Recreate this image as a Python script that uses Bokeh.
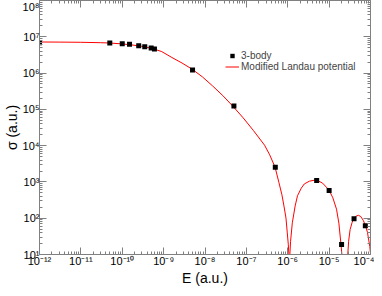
from bokeh.plotting import figure
from bokeh.models import (LogAxis, FixedTicker, CustomJSTickFormatter, Legend,
                          LegendItem, Range1d)
from bokeh.embed import file_html
from bokeh.resources import INLINE

# ---- data ----
body_E = [1e-12, 5e-11, 1e-10, 1.5e-10, 2.5e-10, 3.5e-10, 5e-10, 6e-10,
          5e-9, 5e-8, 5e-7, 5e-6, 1e-5, 2e-5, 4e-5, 7.5e-5]
body_sigma = [6.9e6, 6.75e6, 6.45e6, 6.2e6, 5.66e6, 5.3e6, 4.9e6, 4.6e6,
              1.21e6, 1.23e5, 2.55e3, 1.1e3, 580, 19, 97, 62]

curve_E = [1.0e-12, 3.1e-12, 9.7e-12, 3.0e-11, 4.8e-11, 9.3e-11, 1.64e-10,
           2.9e-10, 5.1e-10, 9.0e-10, 1.58e-9, 2.79e-9, 4.92e-9, 8.67e-9,
           1.53e-8, 2.7e-8, 4.75e-8, 8.38e-8, 1.48e-7, 2.75e-7, 3.66e-7,
           4.94e-7, 6.1e-7, 7.23e-7, 8.09e-7, 9.06e-7, 9.75e-7, 1.03e-6,
           1.07e-6, 1.09e-6,
           1.12e-6, 1.17e-6, 1.29e-6, 1.51e-6, 1.72e-6, 2.12e-6, 2.51e-6,
           3.34e-6, 4.88e-6, 6.97e-6, 9.95e-6, 1.23e-5, 1.51e-5, 1.72e-5,
           1.93e-5, 2.05e-5, 2.4e-5,
           2.81e-5, 2.96e-5, 3.22e-5, 3.61e-5, 4.04e-5, 4.52e-5, 5.15e-5,
           5.83e-5, 6.73e-5, 7.53e-5, 8.44e-5, 9.61e-5, 1.03e-4]
curve_sigma = [7.19e6, 7.14e6, 7.05e6, 6.87e6, 6.75e6, 6.4e6, 6.0e6,
               5.48e6, 4.83e6, 3.91e6, 2.69e6, 1.89e6, 1.27e6, 7.85e5,
               4.41e5, 2.39e5, 1.21e5, 5.83e4, 2.61e4, 1.03e4, 5.58e3,
               2.55e3, 975, 442, 218, 101, 39.3, 19.3,
               9.5, 1.0,
               9.2, 23.1, 74.6, 218, 415, 672, 879,
               1050, 1140, 925, 598, 365, 177, 73.3,
               19.4, 9.2, 1.0,
               9.2, 23.1, 48.9, 78, 99.5, 115, 120,
               111, 86, 63, 41, 16.7, 7.8]

x_exponents = [-12, -11, -10, -9, -8, -7, -6, -5, -4]
y_exponents = [1, 2, 3, 4, 5, 6, 7, 8]
x_title = "E (a.u.)"
y_title = "\u03c3 (a.u.)"

FONT = "Liberation Sans"
AXIS_GRAY = "#808080"

x_major = [10.0 ** k for k in x_exponents]
x_minor = [m * 10.0 ** k for k in x_exponents[:-1] for m in range(2, 10)]
y_major = [10.0 ** k for k in y_exponents]
y_minor = [m * 10.0 ** k for k in y_exponents[:-1] for m in range(2, 10)]

sup_code = """
const sup = {'-':'\u207b','0':'\u2070','1':'\u00b9','2':'\u00b2','3':'\u00b3',
             '4':'\u2074','5':'\u2075','6':'\u2076','7':'\u2077','8':'\u2078','9':'\u2079'};
const e = Math.round(Math.log10(tick));
return '10' + String(e).split('').map(c => sup[c]).join('');
"""

p = figure(width=374, height=288, x_axis_type="log", y_axis_type="log",
           x_range=Range1d(1e-12, 1e-4), y_range=Range1d(10, 1e8),
           output_backend="svg", toolbar_location=None,
           min_border_left=37, min_border_right=4,
           min_border_top=0, min_border_bottom=30)
p.outline_line_color = None
p.xgrid.visible = False
p.ygrid.visible = False
p.background_fill_color = "white"


def style_axis(ax, ticks, minors, labels=True):
    ax.ticker = FixedTicker(ticks=ticks, minor_ticks=minors)
    ax.axis_line_color = AXIS_GRAY
    ax.major_tick_line_color = AXIS_GRAY
    ax.minor_tick_line_color = AXIS_GRAY
    ax.major_tick_in = 7
    ax.major_tick_out = 0
    ax.minor_tick_in = 3
    ax.minor_tick_out = 0
    if labels:
        ax.formatter = CustomJSTickFormatter(code=sup_code)
        ax.major_label_text_font = FONT
        ax.major_label_text_font_size = "11px"
        ax.major_label_text_color = "black"
        ax.major_label_standoff = 0
        ax.axis_label_text_font = FONT
        ax.axis_label_text_font_size = "14px"
        ax.axis_label_text_font_style = "normal"
        ax.axis_label_text_color = "black"
        ax.axis_label_standoff = 0
    else:
        ax.formatter = CustomJSTickFormatter(code="return ''")
        ax.major_label_text_font_size = "0px"
        ax.major_label_standoff = 0
        ax.axis_label_standoff = 0


style_axis(p.xaxis[0], x_major, x_minor)
p.xaxis[0].axis_label = x_title
style_axis(p.yaxis[0], y_major, y_minor)
p.yaxis[0].axis_label = y_title

top = LogAxis()
style_axis(top, x_major, x_minor, labels=False)
p.add_layout(top, "above")
right = LogAxis()
style_axis(right, y_major, y_minor, labels=False)
p.add_layout(right, "right")

ln = p.line(curve_E, curve_sigma, line_color="red", line_width=1)
sc = p.scatter(body_E, body_sigma, marker="square", size=5,
               fill_color="black", line_color=None)

legend = Legend(items=[LegendItem(label="3-body", renderers=[sc]),
                       LegendItem(label="Modified Landau potential", renderers=[ln])],
                location=(186, 182), orientation="vertical",
                glyph_width=14, glyph_height=11, label_height=11,
                label_standoff=2, spacing=0, padding=0, margin=0,
                border_line_alpha=0, background_fill_alpha=0,
                label_text_font=FONT, label_text_font_size="10px")
p.add_layout(legend, "center")

open("out.html", "w").write(file_html(p, INLINE))
